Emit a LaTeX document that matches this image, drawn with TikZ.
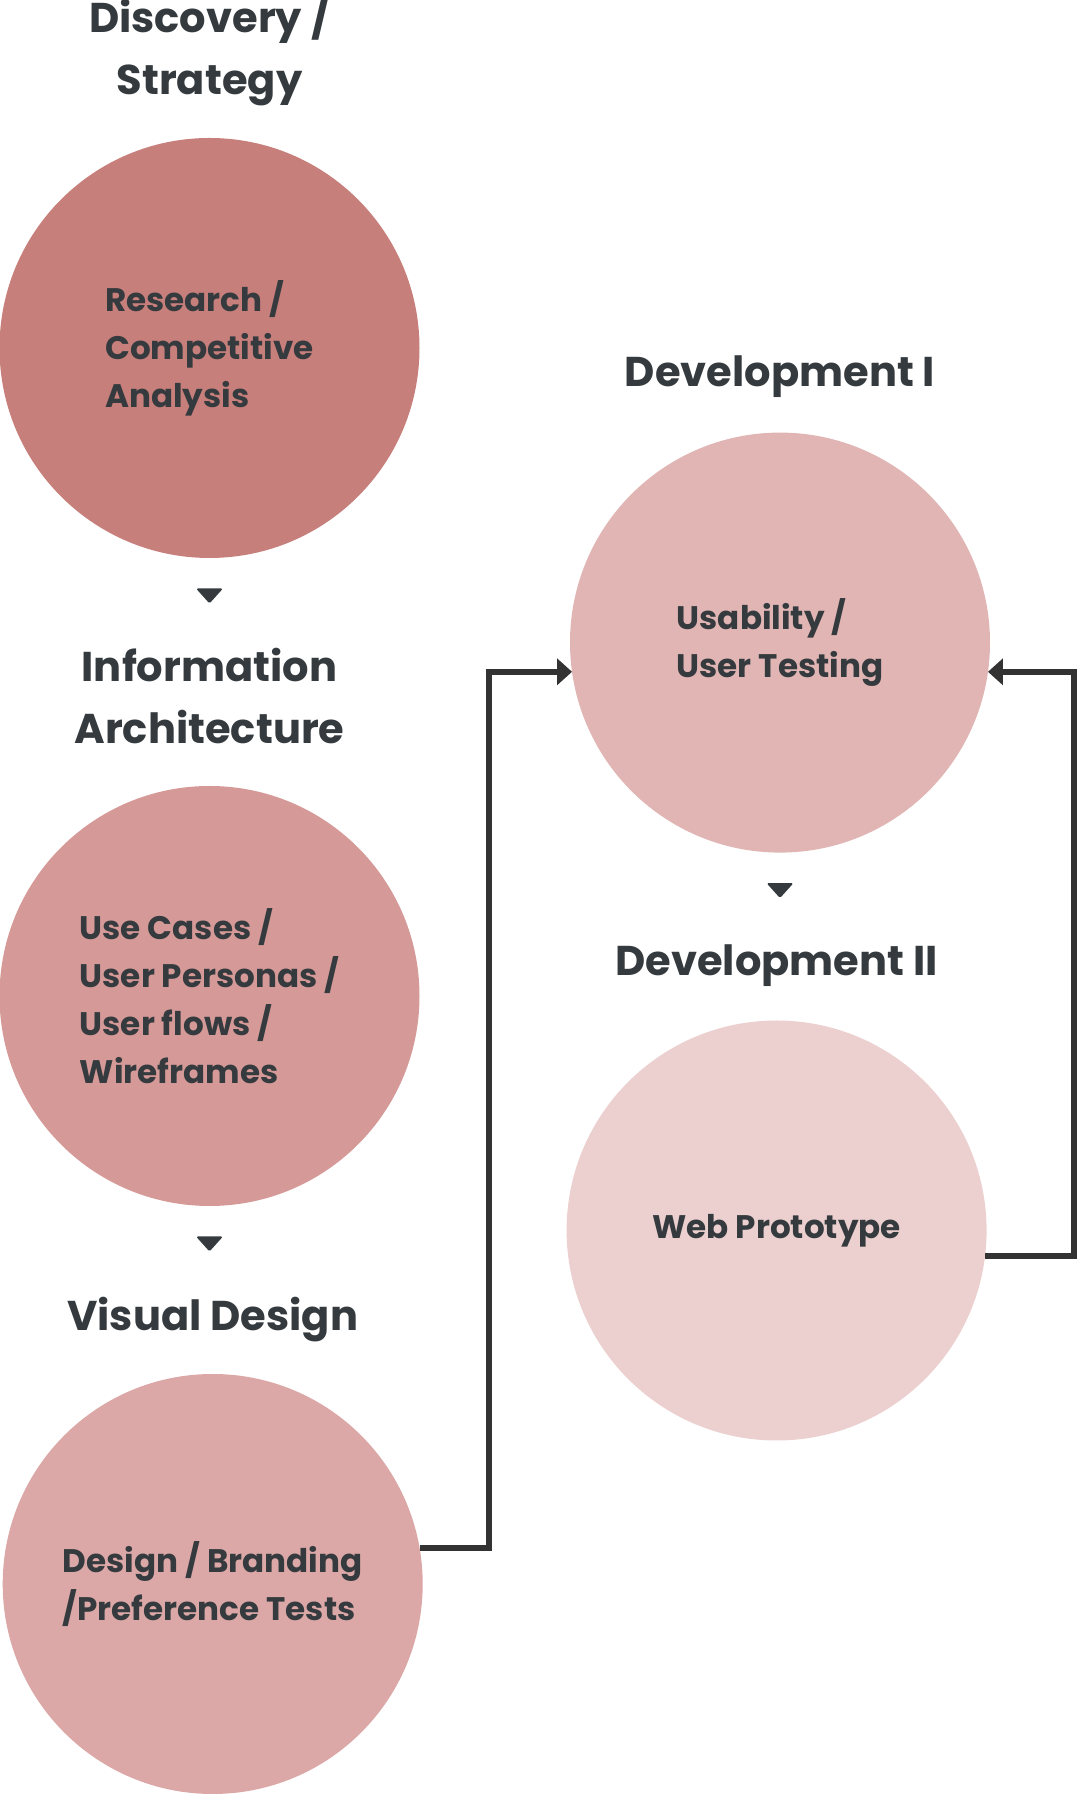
\documentclass[tikz,border=0pt]{standalone}
\usepackage{fontspec}
\setmainfont{Poppins}
\usetikzlibrary{arrows.meta, calc, positioning}
\definecolor{stageone}{RGB}{199,127,123}
\definecolor{stagetwo}{RGB}{213,154,152}
\definecolor{stagethree}{RGB}{219,168,167}
\definecolor{stagefour}{RGB}{224,181,180}
\definecolor{stagefive}{RGB}{236,208,208}
\definecolor{inkgray}{RGB}{52,58,61}
\definecolor{linegray}{RGB}{51,51,51}
\tikzstyle{stage} = [circle, minimum size=210pt, inner sep=0pt, outer sep=0pt, text=inkgray, align=left, font=\bfseries\fontsize{16.3}{24}\selectfont]
\tikzstyle{heading} = [text=inkgray, align=center, font=\bfseries\fontsize{20.8}{31}\selectfont]
\tikzstyle{marker} = [fill=inkgray, rounded corners=0.8pt]
\tikzstyle{conn} = [line width=3pt, linegray, -{Triangle[width=13pt,length=7.5pt]}]

\begin{document}
\begin{tikzpicture}[x=0.5pt, y=0.5pt]
\useasboundingbox (0,0) rectangle (1077,1794);
% Stage circles with headings
\foreach \n/\x/\y/\col/\hy/\head/\body in {
    c1/209.5/1446/stageone/299/{Discovery /\\Strategy}/{Research /\\Competitive\\Analysis},
    c2/209.5/798/stagetwo/300/{Information\\Architecture}/{Use Cases /\\User Personas /\\User flows /\\Wireframes},
    c3/212.7/210/stagethree/264/{Visual Design}/{Design / Branding\\/Preference Tests},
    c4/780/1151.4/stagefour/265.5/{Development I}/{Usability /\\User Testing},
    c5/776.6/563.5/stagefive/264.5/{Development II}/{Web Prototype}} {
    \node[stage, fill=\col] (\n) at (\x,\y) {\body};
    \node[heading] (\n head) at (\x,\y+\hy) {\head};
}

% Down markers under the circles
\foreach \c in {c1,c2,c4}
    \fill[marker] ($(\c.south)+(-13.5,-30.5)$) -- ++(27,0) -- ++(-13.5,-15) -- cycle;

% Feedback loops into testing
\draw[conn] (c3.10) -- ++(69.5,0) |- (c4.188);
\draw[conn] (c5.-7) -- ++(89,0) |- (c4.-8);
\end{tikzpicture}
\end{document}
